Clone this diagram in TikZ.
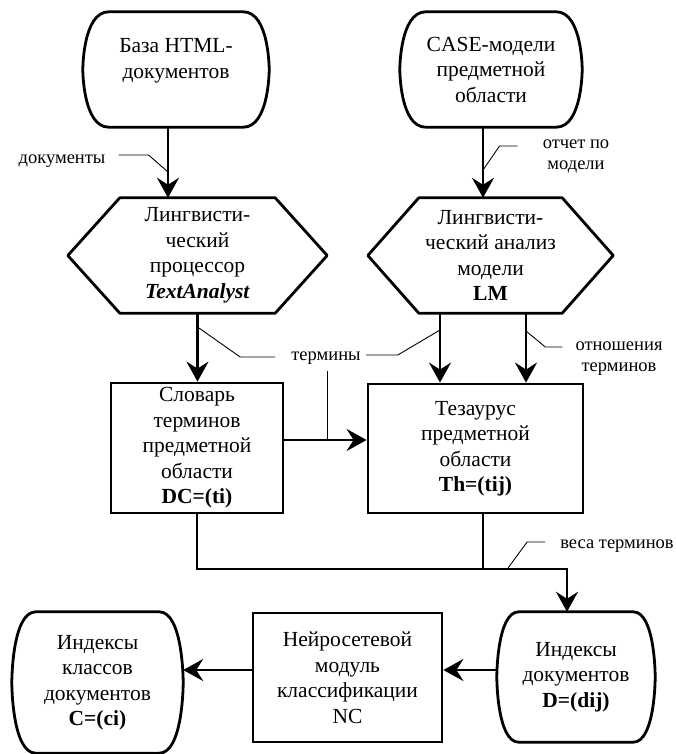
\documentclass[tikz,border=0pt]{standalone}
\usepackage{fontspec}
\setmainfont{Liberation Serif}
\usetikzlibrary{arrows.meta,calc}

% rounded terminator outline drawn through a node's anchors
\newcommand{\termshape}[2]{%
  \draw[frame] ([xshift=#2]#1.north west) -- ([xshift=-#2]#1.north east)
    .. controls (#1.north east) and (#1.east) .. (#1.east)
    .. controls (#1.east) and (#1.south east) .. ([xshift=-#2]#1.south east)
    -- ([xshift=#2]#1.south west)
    .. controls (#1.south west) and (#1.west) .. (#1.west)
    .. controls (#1.west) and (#1.north west) .. ([xshift=#2]#1.north west) -- cycle;}
% hexagonal process outline drawn through a node's anchors
\newcommand{\hexshape}[2]{%
  \draw[frame] (#1.west) -- ([xshift=#2]#1.north west) -- ([xshift=-#2]#1.north east)
    -- (#1.east) -- ([xshift=-#2]#1.south east) -- ([xshift=#2]#1.south west) -- cycle;}

\begin{document}
\begin{tikzpicture}[x=1pt,y=-1pt,
  frame/.style={line width=2.8pt, line join=round},
  blocktext/.style={inner sep=0pt, align=center, font=\fontsize{21.5pt}{25.5pt}\selectfont},
  shapeonly/.style={blocktext, minimum width=#1},
  rectbox/.style={blocktext, draw, line width=2.8pt},
  lbl/.style={inner sep=0pt, align=center, font=\fontsize{18.5pt}{21pt}\selectfont},
  flow/.style={line width=2.8pt, line join=miter},
  arr/.style={flow, -{Stealth[length=20pt,width=22pt,inset=7pt]}},
  lead/.style={line width=0.9pt}]

\path[use as bounding box, fill=white] (0,0) rectangle (676,754);

% --- sources ---
\node[shapeonly=186pt, minimum height=115pt] (html) at (176,69.5) {};
\node[blocktext] (htmlT) at ([yshift=8.5pt]html.center) {База HTML-\\документов};
\termshape{html}{26pt}

\node[shapeonly=182pt, minimum height=115pt] (case) at (491,69.5)
  {CASE-модели\\предметной\\области};
\termshape{case}{26pt}

% --- linguistic processors ---
\node[shapeonly=259pt, minimum height=115pt] (hexL) at (197.5,255.5)
  {Лингвисти-\\ческий\\процессор\\\textbf{\textit{TextAnalyst}}};
\hexshape{hexL}{52pt}

\node[shapeonly=245pt, minimum height=115pt] (hexR) at (490.5,255.5)
  {Лингвисти-\\ческий анализ\\модели\\\textbf{LM}};
\hexshape{hexR}{51pt}

% --- dictionary and thesaurus ---
\node[rectbox, minimum width=172pt, minimum height=130pt] (dict) at (197,448)
  {Словарь\\терминов\\предметной\\области\\\textbf{DC=(ti)}};
\node[rectbox, minimum width=215pt, minimum height=129pt] (thes) at (475.5,448.5)
  {Тезаурус\\предметной\\области\\\textbf{Th=(tij)}};

% --- bottom row ---
\node[shapeonly=158pt, minimum height=130pt] (dmat) at (576,677)
  {Индексы\\документов\\\textbf{D=(dij)}};
\termshape{dmat}{22pt}
\node[rectbox, minimum width=189pt, minimum height=129pt] (nc) at (347.5,677.5)
  {Нейросетевой\\модуль\\классификации\\NC};
\node[shapeonly=171pt, minimum height=141pt] (cmat) at (97.5,682.5)
  {Индексы\\классов\\документов\\\textbf{C=(ci)}};
\termshape{cmat}{24pt}

% --- connector labels ---
\node[lbl] (lblDocs) at (62,161) {документы};
\node[lbl] (lblRep) at (576,156) {отчет по\\модели};
\node[lbl] (lblTerms) at (326,358) {термины};
\node[lbl] (lblRel) at (619,359) {отношения\\терминов};
\node[lbl] (lblW) at (617,546) {веса терминов};

% --- flows ---
\coordinate (hOut) at ([xshift=-8pt]html.south);
\coordinate (cOut) at ([xshift=-8pt]case.south);
\coordinate (rA) at ([xshift=-50.5pt]hexR.south);
\coordinate (rB) at ([xshift=35.5pt]hexR.south);
\coordinate (dR) at ([yshift=8pt]dict.east);
\coordinate (tOut) at ([xshift=7.5pt]thes.south);
\coordinate (dIn) at ([xshift=-9pt]dmat.north);
\coordinate (bus) at (0,569);
\coordinate (dmL) at ([yshift=7pt]dmat.west);
\coordinate (ncL) at ([yshift=7.5pt]nc.west);

\draw[arr] (hOut) -- (hOut |- hexL.north);
\draw[arr] (cOut) -- (cOut |- hexR.north);
\draw[arr] (hexL.south) -- (hexL.south |- dict.north);
\draw[arr] (rA) -- (rA |- thes.north);
\draw[arr] (rB) -- (rB |- thes.north);
\draw[arr] (dR) -- (dR -| thes.west);
\draw[arr] (dict.south) -- (dict.south |- bus) -- (dIn |- bus) -- (dIn);
\draw[flow] (tOut) -- (tOut |- bus);
\draw[arr] (dmL) -- (dmL -| nc.east);
\draw[arr] (ncL) -- (ncL -| cmat.east);

% --- label leaders ---
\coordinate (wEnd) at (508,568);
\draw[lead] ([xshift=13pt,yshift=6pt]lblDocs.east) -- ++(30,0) -- (hOut |- 0,172);
\draw[lead] ([xshift=-25pt,yshift=10pt]lblRep.west) -- ++(-18,0) -- (cOut |- 0,170);
\draw[lead] ([xshift=-16pt,yshift=1pt]lblTerms.west) -- ++(-35,0) -- (hexL.south |- 0,327);
\draw[lead] ([xshift=5pt,yshift=3pt]lblTerms.east) -- ++(32,0) -- (rA |- 0,330);
\draw[lead] ([xshift=1pt,yshift=-6pt]lblTerms.south) -- ([xshift=1pt]lblTerms.south |- dR);
\draw[lead] ([xshift=-13pt,yshift=12pt]lblRel.west) -- ++(-17,0) -- (rB |- 0,331);
\draw[lead] ([xshift=-15pt,yshift=4pt]lblW.west) -- ++(-18,0) -- (wEnd);
\end{tikzpicture}
\end{document}
